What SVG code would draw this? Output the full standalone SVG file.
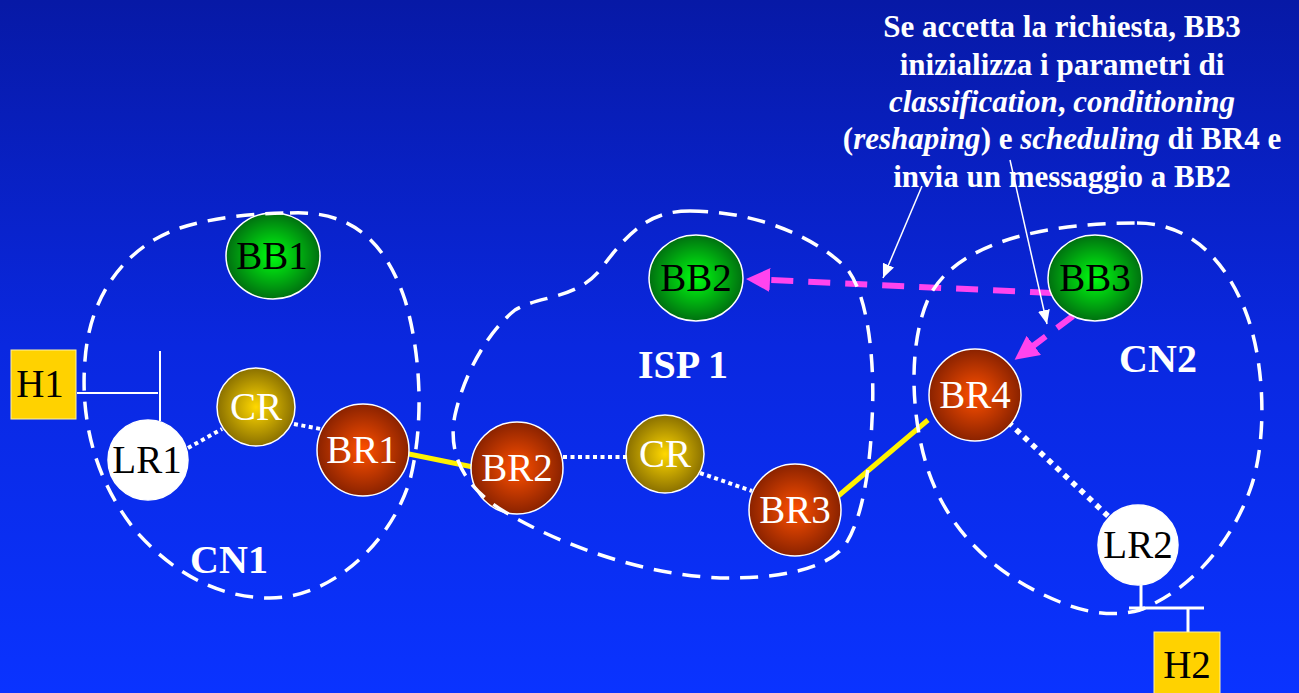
<svg xmlns="http://www.w3.org/2000/svg" width="1299" height="693" viewBox="0 0 1299 693">
<defs>
<linearGradient id="bg" x1="0" y1="0" x2="0" y2="1">
<stop offset="0" stop-color="#0719A6"/>
<stop offset="0.5" stop-color="#0A28E0"/>
<stop offset="1" stop-color="#0A33FF"/>
</linearGradient>
<radialGradient id="gGreen" cx="0.5" cy="0.5" r="0.5">
<stop offset="0" stop-color="#00FF10"/>
<stop offset="1" stop-color="#007010"/>
</radialGradient>
<radialGradient id="gRed" cx="0.5" cy="0.5" r="0.5">
<stop offset="0" stop-color="#FF5000"/>
<stop offset="1" stop-color="#8A2200"/>
</radialGradient>
<radialGradient id="gYel" cx="0.5" cy="0.5" r="0.5">
<stop offset="0" stop-color="#FFD800"/>
<stop offset="1" stop-color="#8A7000"/>
</radialGradient>
<marker id="mag" markerUnits="userSpaceOnUse" viewBox="0 0 24 24" markerWidth="24" markerHeight="24" refX="1" refY="12" orient="auto">
<path d="M0,0 L24,12 L0,24 Z" fill="#FF44EE"/>
</marker>
<marker id="wht" markerUnits="userSpaceOnUse" viewBox="0 0 14 12" markerWidth="14" markerHeight="12" refX="14" refY="6" orient="auto">
<path d="M0,0 L14,6 L0,12 Z" fill="#FFFFFF"/>
</marker>
</defs>
<style>
.cloud{fill:none;stroke:#FFFFFF;stroke-width:3.5;stroke-dasharray:18 11}
.dot{fill:none;stroke:#FFFFFF;stroke-width:4;stroke-dasharray:4 3.5}
.dotb{fill:none;stroke:#FFFFFF;stroke-width:5.5;stroke-dasharray:5.5 5.5}
.yel{stroke:#FFF200;stroke-width:5;fill:none}
.magl{stroke:#FF44EE;stroke-width:6;fill:none;stroke-dasharray:22 15}
.ann{stroke:#FFFFFF;stroke-width:1.5;fill:none}
.wire{stroke:#FFFFFF;fill:none;stroke-width:2}
.wire3{stroke:#FFFFFF;fill:none;stroke-width:3}
.nd{stroke:#FFFFFF;stroke-width:1.5}
text{font-family:'Liberation Serif','Tinos','DejaVu Serif','Times New Roman',serif}
.lbl{font-size:39px;text-anchor:middle}
.reg{font-size:40px;font-weight:bold;fill:#FFFFFF;text-anchor:middle}
.note{font-size:31px;font-weight:bold;fill:#FFFFFF;text-anchor:middle}
.it{font-style:italic}
</style>
<rect x="0" y="0" width="1299" height="693" fill="url(#bg)"/>

<g id="note">
<text class="note" x="1062" y="37">Se accetta la richiesta, BB3</text>
<text class="note" x="1062" y="75">inizializza i parametri di</text>
<text class="note" x="1062" y="112"><tspan class="it">classification</tspan>, <tspan class="it">conditioning</tspan></text>
<text class="note" x="1062" y="149">(<tspan class="it">reshaping</tspan>) e <tspan class="it">scheduling</tspan> di BR4 e</text>
<text class="note" x="1062" y="187">invia un messaggio a BB2</text>
</g>

<g id="connectors">
<line class="wire" x1="77" y1="393" x2="158" y2="393"/>
<line class="wire" x1="160" y1="351" x2="160" y2="421"/>
<line class="wire3" x1="1141" y1="585" x2="1141" y2="608"/>
<line class="wire3" x1="1129" y1="608" x2="1204" y2="608"/>
<line class="wire3" x1="1188" y1="608" x2="1188" y2="633"/>
<line class="dot" x1="188" y1="448" x2="222" y2="429"/>
<line class="dot" x1="294" y1="424" x2="326" y2="430"/>
<line class="dot" x1="563" y1="457" x2="627" y2="457"/>
<line class="dot" x1="700" y1="473" x2="752" y2="491"/>
<line class="dotb" x1="1008" y1="422" x2="1108" y2="516"/>
<line class="yel" x1="404" y1="453" x2="473" y2="467"/>
<line class="yel" x1="837" y1="497" x2="928" y2="420"/>
<line class="magl" x1="1052" y1="293" x2="769" y2="280" marker-end="url(#mag)"/>
<line class="magl" style="stroke-dasharray:20 14" x1="1073" y1="316" x2="1033" y2="346" marker-end="url(#mag)"/>
<line class="ann" x1="922" y1="186" x2="883" y2="278" marker-end="url(#wht)"/>
<line class="ann" x1="1010" y1="160" x2="1047" y2="324" marker-end="url(#wht)"/>
</g>

<g id="H1"><rect x="11" y="350" width="65" height="69" fill="#FFD200" stroke="#FFF2A0" stroke-width="1"/><text class="lbl" x="40" y="397" fill="#000000">H1</text></g>
<g id="H2"><rect x="1154" y="632" width="66" height="70" fill="#FFD200" stroke="#FFF2A0" stroke-width="1"/><text class="lbl" x="1187" y="678" fill="#000000">H2</text></g>

<g id="BB1"><ellipse class="nd" cx="273" cy="256" rx="47" ry="43" fill="url(#gGreen)"/><text class="lbl" x="272" y="269" fill="#000000">BB1</text></g>
<g id="CR1"><circle class="nd" cx="256" cy="407" r="39" fill="url(#gYel)"/><text class="lbl" x="256" y="420" fill="#FFFFFF">CR</text></g>
<g id="LR1"><circle class="nd" cx="148" cy="460" r="40" fill="#FFFFFF"/><text class="lbl" x="147" y="473" fill="#000000">LR1</text></g>
<g id="BR1"><circle class="nd" cx="363" cy="450" r="46" fill="url(#gRed)"/><text class="lbl" x="362" y="463" fill="#FFFFFF">BR1</text></g>
<g id="BB2"><ellipse class="nd" cx="696" cy="278" rx="47" ry="43" fill="url(#gGreen)"/><text class="lbl" x="696" y="291" fill="#000000">BB2</text></g>
<g id="BR2"><circle class="nd" cx="517" cy="468" r="46" fill="url(#gRed)"/><text class="lbl" x="517" y="481" fill="#FFFFFF">BR2</text></g>
<g id="CR2"><circle class="nd" cx="665" cy="454" r="39" fill="url(#gYel)"/><text class="lbl" x="665" y="467" fill="#FFFFFF">CR</text></g>
<g id="BR3"><circle class="nd" cx="795" cy="510" r="46" fill="url(#gRed)"/><text class="lbl" x="795" y="523" fill="#FFFFFF">BR3</text></g>
<g id="BB3"><ellipse class="nd" cx="1095" cy="278" rx="47" ry="43" fill="url(#gGreen)"/><text class="lbl" x="1095" y="291" fill="#000000">BB3</text></g>
<g id="BR4"><circle class="nd" cx="975" cy="395" r="46" fill="url(#gRed)"/><text class="lbl" x="975" y="408" fill="#FFFFFF">BR4</text></g>
<g id="LR2"><circle class="nd" cx="1138" cy="545" r="40" fill="#FFFFFF"/><text class="lbl" x="1138" y="558" fill="#000000">LR2</text></g>

<g id="regions">
<path class="cloud" d="M290,213 C350,210 385,240 405,300 C420,350 425,420 410,480 C390,545 330,598 270,598 C215,598 170,570 135,530 C95,480 80,420 85,360 C90,290 130,245 180,228 C215,217 255,213 290,213 Z"/>
<path class="cloud" d="M690,211 C760,211 820,240 848,270 C870,300 875,370 872,420 C870,470 862,520 845,545 C825,572 770,578 730,578 C650,578 560,545 505,512 C460,485 448,450 455,415 C465,370 490,330 515,310 C540,295 575,300 600,270 C630,230 650,211 690,211 Z"/>
<path class="cloud" d="M1137,223 C1190,223 1225,260 1245,310 C1265,360 1268,440 1250,490 C1230,545 1190,590 1140,610 C1120,616 1090,615 1060,602 C1000,578 950,535 928,470 C910,415 908,340 930,295 C960,240 1050,223 1137,223 Z"/>
<text class="reg" x="229" y="573">CN1</text>
<text class="reg" x="683" y="378">ISP 1</text>
<text class="reg" x="1158" y="372">CN2</text>
</g>
</svg>
